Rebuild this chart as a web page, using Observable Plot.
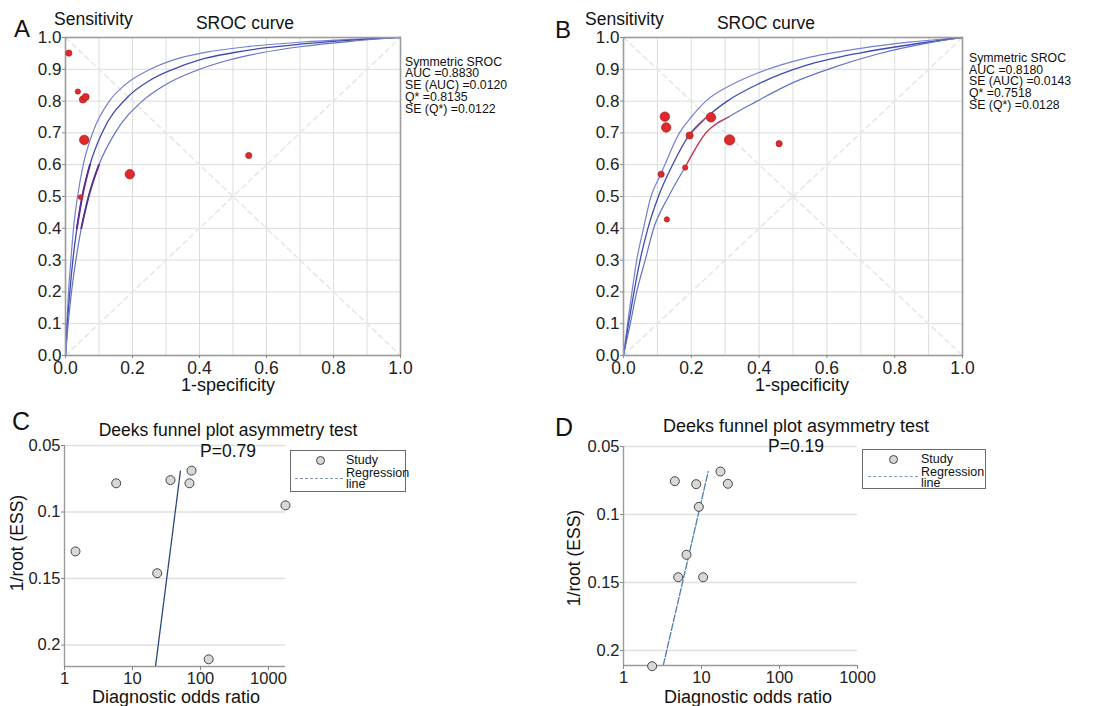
<!DOCTYPE html>
<html><head><meta charset="utf-8">
<script src="https://cdn.jsdelivr.net/npm/d3@7"></script>
<script src="https://cdn.jsdelivr.net/npm/@observablehq/plot@0.6"></script>
<style>
body{margin:0;background:#fff;font-family:"Liberation Sans",Arial,Helvetica,sans-serif;}
#root{position:relative;width:1094px;height:706px;overflow:hidden;background:#fff;}
.t{position:absolute;white-space:nowrap;color:#111;line-height:1;}
.panel{position:absolute;}
.panel svg{overflow:visible;display:block;}
.box{position:absolute;border:1.5px solid #6a6a6a;box-sizing:border-box;}
</style></head><body><div id="root"></div>
<script>
// ---------- data ----------
// SROC grid / ticks
const gridTicks = [0,0.1,0.2,0.3,0.4,0.5,0.6,0.7,0.8,0.9,1.0];
const srocXTicks = [0,0.2,0.4,0.6,0.8,1.0];
const chanceLine = [[0,0],[1,1]];
const qStarLine = [[0,1],[1,0]];

// Panel A: SROC curves [1-specificity, sensitivity]
const aUpper = [[0,0],[0.004,0.1],[0.009,0.2],[0.016,0.3],[0.024,0.4],[0.036,0.5],[0.053,0.6],[0.081,0.7],[0.131,0.8],[0.176,0.85],[0.253,0.9],[0.33,0.932],[0.417,0.953],[0.55,0.972],[0.7,0.985],[0.85,0.994],[1,1]];
const aCenter = [[0,0],[0.005,0.09],[0.013,0.2],[0.022,0.3],[0.034,0.4],[0.05,0.5],[0.073,0.6],[0.109,0.7],[0.1865,0.8135],[0.25,0.864],[0.321,0.9],[0.4,0.93],[0.5,0.952],[0.6,0.968],[0.7,0.979],[0.8,0.988],[0.9,0.995],[1,1]];
const aLower = [[0,0],[0.008,0.1],[0.018,0.2],[0.031,0.3],[0.047,0.4],[0.069,0.5],[0.1,0.6],[0.148,0.7],[0.229,0.8],[0.296,0.85],[0.4,0.9],[0.48,0.927],[0.585,0.952],[0.7,0.971],[0.85,0.988],[1,1]];
// Panel A: studies
const aStudyFpr    = [0.010, 0.037, 0.052, 0.060, 0.056, 0.192, 0.547, 0.045];
const aStudySens   = [0.951, 0.830, 0.805, 0.813, 0.678, 0.570, 0.629, 0.498];
const aStudyWeight = [35, 25, 45, 45, 70, 70, 35, 20];
const aStats = ["Symmetric SROC","AUC =0.8830","SE (AUC) =0.0120","Q* =0.8135","SE (Q*) =0.0122"];

// Panel B: SROC curves
const bUpper = [[0,0],[0.012,0.1],[0.025,0.2],[0.039,0.3],[0.059,0.4],[0.081,0.5],[0.11,0.57],[0.122,0.6],[0.165,0.7],[0.2,0.75],[0.243,0.8],[0.32,0.852],[0.4,0.89],[0.538,0.935],[0.7,0.966],[0.85,0.986],[1,1]];
const bCenter = [[0,0],[0.015,0.1],[0.031,0.2],[0.049,0.3],[0.072,0.4],[0.103,0.5],[0.145,0.6],[0.193,0.692],[0.248,0.752],[0.306,0.8],[0.4,0.855],[0.538,0.912],[0.7,0.952],[0.85,0.978],[1,1]];
const bLower = [[0,0],[0.02,0.1],[0.039,0.2],[0.064,0.3],[0.089,0.4],[0.133,0.5],[0.181,0.591],[0.243,0.7],[0.31,0.75],[0.394,0.8],[0.5,0.858],[0.62,0.906],[0.75,0.948],[0.9,0.983],[1,1]];
// Panel B: studies
const bStudyFpr    = [0.122, 0.126, 0.258, 0.195, 0.313, 0.459, 0.111, 0.182, 0.128];
const bStudySens   = [0.751, 0.717, 0.749, 0.692, 0.678, 0.666, 0.570, 0.591, 0.428];
const bStudyWeight = [70, 70, 70, 45, 80, 35, 35, 25, 25];
const bStats = ["Symmetric SROC","AUC =0.8180","SE (AUC) =0.0143","Q* =0.7518","SE (Q*) =0.0128"];

// Deeks funnel plots
const dorTicks = [1,10,100,1000];
const essTicks = [0.05,0.1,0.15,0.2];
// Panel C
const cDor = [5.76, 36.2, 73.8, 68.9, 1778, 1.45, 23.1, 132];
const cEss = [0.0784, 0.076, 0.0689, 0.0784, 0.095, 0.1296, 0.146, 0.2107];
const cRegDor = [21.8, 50.8];
const cRegEss = [0.2161, 0.0689];
// Panel D
const dDor = [4.55, 8.55, 17.5, 21.8, 9.24, 6.42, 5.02, 10.5, 2.33];
const dEss = [0.0755, 0.0777, 0.0684, 0.0774, 0.0944, 0.1296, 0.1461, 0.1461, 0.2115];
const dRegDor = [3.23, 12.2];
const dRegEss = [0.211, 0.0684];

// ---------- drawing ----------
const FONT = '"Liberation Sans", Arial, Helvetica, sans-serif';
const root = document.getElementById("root");
function put(node, x, y){ const d=document.createElement("div"); d.className="panel"; d.style.left=x+"px"; d.style.top=y+"px"; d.appendChild(node); root.appendChild(d); }
function txt(s, x, y, size, anchor="start", extra={}){
  const d=document.createElement("div"); d.className="t"; d.textContent=s;
  d.style.left=x+"px"; d.style.top=y+"px"; d.style.fontSize=size+"px";
  const tx = anchor==="middle"?"-50%":anchor==="end"?"-100%":"0";
  d.style.transform=`translate(${tx},-50%)`+(extra.rotate?` rotate(${extra.rotate}deg)`:"");
  if (extra.color) d.style.color=extra.color;
  if (extra.lh) d.style.lineHeight=extra.lh;
  root.appendChild(d); return d;
}
const pts = a => a.map(([x,y]) => ({x,y}));

function sroc({upper, center, lower, fpr, sens, weight, width, marginLeft, marginRight, purple, red}){
  const studies = fpr.map((f,i)=>({x:f, y:sens[i], w:weight[i]}));
  const marks = [
    Plot.gridX(gridTicks, {stroke:"#dcdcdc", strokeOpacity:1, strokeWidth:1}),
    Plot.gridY(gridTicks, {stroke:"#dcdcdc", strokeOpacity:1, strokeWidth:1}),
    Plot.line(pts(chanceLine), {x:"x", y:"y", stroke:"#e6e6e6", strokeDasharray:"5,4"}),
    Plot.line(pts(qStarLine), {x:"x", y:"y", stroke:"#e6e6e6", strokeDasharray:"5,4"}),
    Plot.line(pts(upper), {x:"x", y:"y", stroke:"#7480d0", strokeWidth:1.2, curve:"monotone-x"}),
    Plot.line(pts(center), {x:"x", y:"y", stroke:"#3f4cae", strokeWidth:1.3, curve:"monotone-x"}),
    Plot.line(pts(lower), {x:"x", y:"y", stroke:"#6672c8", strokeWidth:1.2, curve:"monotone-x"})
  ];
  if (purple) for (const seg of purple) marks.push(Plot.line(pts(seg), {x:"x", y:"y", stroke:"#5b2d8c", strokeWidth:1.9, curve:"monotone-x"}));
  if (red) for (const seg of red) marks.push(Plot.line(pts(seg), {x:"x", y:"y", stroke:"#e0363a", strokeWidth:1.1, curve:"monotone-x"}));
  marks.push(
    Plot.frame({stroke:"#9c9c9c", strokeWidth:1.6}),
    Plot.dot(studies, {x:"x", y:"y", r:"w", fill:"#df2a2c", stroke:"#a71d20", strokeWidth:0.7}),
    Plot.axisX(srocXTicks, {tickFormat:d3.format(".1f"), fontSize:17.5, tickSize:3, tickPadding:3, stroke:"#888", fill:"#222", label:null}),
    Plot.axisY(gridTicks, {tickFormat:d3.format(".1f"), fontSize:17, tickSize:3, tickPadding:1, stroke:"#888", fill:"#222", label:null})
  );
  return Plot.plot({
    width, height:400, marginLeft, marginRight, marginTop:37, marginBottom:45,
    x:{domain:[0,1]}, y:{domain:[0,1]},
    r:{type:"linear", domain:[20,80], range:[2.4,5.2]},
    style:{fontFamily:FONT, fontSize:"17px", color:"#222", background:"none", overflow:"visible"},
    marks
  });
}

function deeks({dor, ess, regDor, regEss, xMax, yMax, width, marginLeft, marginRight, marginTop, marginBottom, regColor, regDash}){
  const studies = dor.map((v,i)=>({x:v, y:ess[i]}));
  const reg = regDor.map((v,i)=>({x:v, y:regEss[i]}));
  return Plot.plot({
    width, height:296, marginLeft, marginRight, marginTop, marginBottom,
    x:{type:"log", domain:[1,xMax]}, y:{domain:[0.05,yMax], reverse:true},
    style:{fontFamily:FONT, fontSize:"16px", color:"#222", background:"none", overflow:"visible"},
    marks:[
      Plot.ruleY(essTicks, {stroke:"#e0e0e0", strokeWidth:1.5}),
      Plot.ruleX([1], {stroke:"#9a9a9a", strokeWidth:1.4}),
      Plot.ruleY([yMax], {stroke:"#9a9a9a", strokeWidth:1.4}),
      Plot.line(reg, {x:"x", y:"y", stroke:regColor, strokeWidth:1.3, strokeDasharray:regDash, clip:true}),
      Plot.dot(studies, {x:"x", y:"y", r:4.5, fill:"#d8d8d8", stroke:"#454545", strokeWidth:1}),
      Plot.axisX(dorTicks, {tickFormat:d=>String(d), fontSize:16.5, tickSize:4, tickPadding:2, stroke:"#888", fill:"#222", label:null}),
      Plot.axisY(essTicks, {tickFormat:d=>String(d), fontSize:16.5, tickSize:3, tickPadding:1, stroke:"#888", fill:"#222", label:null})
    ]
  });
}

const inRange = (a, lo, hi) => a.filter(([x,y]) => y>=lo && y<=hi);
const inX = (a, lo, hi) => a.filter(([x,y]) => x>=lo && x<=hi);

// Panel A
put(sroc({upper:aUpper, center:aCenter, lower:aLower, fpr:aStudyFpr, sens:aStudySens, weight:aStudyWeight,
  width:550, marginLeft:65, marginRight:150,
  purple:[inRange(aCenter,0.38,0.62), inRange(aLower,0.38,0.62)]}), 0, 0);
// Panel B
put(sroc({upper:bUpper, center:bCenter, lower:bLower, fpr:bStudyFpr, sens:bStudySens, weight:bStudyWeight,
  width:544, marginLeft:73, marginRight:132,
  red:[inX(bCenter,0.19,0.26), inX(bLower,0.18,0.32)]}), 550, 0);
// Panel C
put(deeks({dor:cDor, ess:cEss, regDor:cRegDor, regEss:cRegEss, xMax:1780, yMax:0.2161,
  width:550, marginLeft:64, marginRight:265, marginTop:35, marginBottom:40, regColor:"#27487f", regDash:"10,1"}), 0, 410);
// Panel D
put(deeks({dor:dDor, ess:dEss, regDor:dRegDor, regEss:dRegEss, xMax:1000, yMax:0.211,
  width:544, marginLeft:73, marginRight:237, marginTop:36, marginBottom:41, regColor:"#4f7db3", regDash:"7,2"}), 550, 410);

// ---------- texts ----------
txt("A", 14, 29, 24);
txt("Sensitivity", 54, 20, 17.5, "start", {lh:"0.9"});
txt("SROC curve", 245, 24, 17.5, "middle");
txt("1-specificity", 228, 385, 18, "middle");
aStats.forEach((s,i)=>txt(s, 405, 61.7 + i*11.7, 12.3, "start", {lh:"0.85"}));

txt("B", 555, 30, 24);
txt("Sensitivity", 585, 20, 17.5, "start", {lh:"0.9"});
txt("SROC curve", 766, 24, 17.5, "middle");
txt("1-specificity", 802, 385, 18, "middle");
bStats.forEach((s,i)=>txt(s, 969, 57.7 + i*11.8, 12.3, "start", {lh:"0.85"}));

txt("C", 12, 421, 25);
txt("Deeks funnel plot asymmetry test", 228, 431, 17.5, "middle");
txt("P=0.79", 228, 452, 17.5, "middle");
txt("1/root (ESS)", 18, 543, 17.5, "middle", {rotate:-90});
txt("Diagnostic odds ratio", 176, 697, 18, "middle");

txt("D", 555, 427, 25);
txt("Deeks funnel plot asymmetry test", 796, 426, 18, "middle");
txt("P=0.19", 796, 447, 17.5, "middle");
txt("1/root (ESS)", 575, 558, 17.5, "middle", {rotate:-90});
txt("Diagnostic odds ratio", 748, 697, 18, "middle");

// ---------- legends ----------
function legend(x, y, w, h, cx, cy, tx, dashX, dashW, dashY, dashColor){
  const b=document.createElement("div"); b.className="box";
  Object.assign(b.style,{left:x+"px",top:y+"px",width:w+"px",height:h+"px"}); root.appendChild(b);
  const c=document.createElement("div");
  Object.assign(c.style,{position:"absolute",left:(cx-4.5)+"px",top:(cy-4.5)+"px",width:"9px",height:"9px",borderRadius:"50%",background:"#d8d8d8",border:"1px solid #454545",boxSizing:"border-box"});
  root.appendChild(c);
  const l=document.createElement("div");
  Object.assign(l.style,{position:"absolute",left:dashX+"px",top:dashY+"px",width:dashW+"px",height:"0",borderTop:"1.3px dashed "+dashColor});
  root.appendChild(l);
  txt("Study", tx, cy-0.5, 12.5, "start", {lh:"0.85"});
  txt("Regression", tx, cy+12.5, 12.5, "start", {lh:"0.85"});
  txt("line", tx, cy+23.5, 12.5, "start", {lh:"0.85"});
}
legend(290, 450, 116, 42, 320, 460, 346, 295, 48, 478, "#8494aa");
legend(862, 449, 124, 40, 893, 459, 921, 868, 50, 476, "#7f9cc0");
</script></body></html>
